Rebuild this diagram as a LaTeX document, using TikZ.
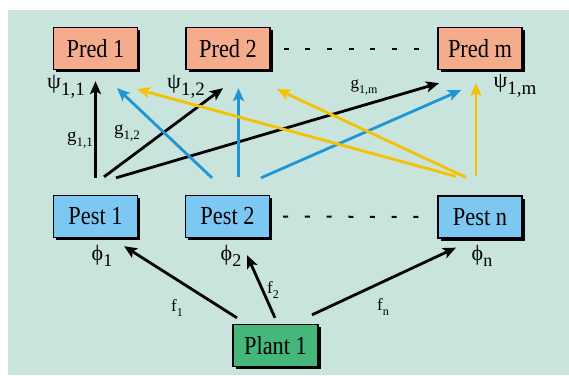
\documentclass[tikz,border=0pt]{standalone}
\usepackage{fontspec}
\setmainfont{Liberation Serif}
\newfontfamily\boxfont{Liberation Serif}[FakeStretch=0.86]
\usetikzlibrary{arrows.meta,shadows}

\definecolor{mint}{RGB}{201,228,221}
\definecolor{predfill}{RGB}{245,172,140}
\definecolor{pestfill}{RGB}{124,200,242}
\definecolor{plantfill}{RGB}{70,183,122}
\definecolor{arrblue}{RGB}{30,150,214}
\definecolor{arryellow}{RGB}{245,194,0}

% coefficient labels: symbol with a lowered index
\newcommand{\coef}[4]{{\fontsize{#3}{#3}\selectfont #1}\raisebox{-0.3\dimexpr#3pt\relax}{\fontsize{#4}{#4}\selectfont #2}}

\tikzset{
  box/.style={draw=black, line width=1.3pt, minimum height=42pt,
    minimum width=84pt, inner sep=0pt,
    drop shadow={shadow xshift=2.5pt, shadow yshift=-2.5pt, fill=black, opacity=1},
    font=\boxfont\fontsize{26}{26}\selectfont},
  pred/.style={box, fill=predfill},
  pest/.style={box, fill=pestfill},
  plant/.style={box, fill=plantfill},
  link/.style={line width=2.8pt, -{Stealth[length=13pt,width=11pt,inset=3pt]}},
  dotsline/.style={line width=2pt, dash pattern=on 5pt off 16.7pt},
  lab/.style={inner sep=0pt}
}

\begin{document}
\begin{tikzpicture}[x=1pt,y=-1pt]
\useasboundingbox (0,0) rectangle (569,375);
\fill[white] (0,0) rectangle (569,375);
\fill[mint] (8,10) rectangle (569,375);

% predators
\node[pred] (pred1) at (95.5,48.5) {Pred 1};
\node[pred] (pred2) at (228,48.5) {Pred 2};
\node[pred] (predm) at (480,48.5) {Pred m};
% pests
\node[pest] (pest1) at (95.5,216.5) {Pest 1};
\node[pest] (pest2) at (227.5,216.5) {Pest 2};
\node[pest] (pestn) at (480,217) {Pest n};
% plant
\node[plant, minimum width=85pt] (plant) at (275.5,345.5) {Plant 1};

% omitted boxes
\draw[dotsline] ([xshift=13pt]pred2.east) -- ([xshift=-18pt]predm.west);
\draw[dotsline] ([xshift=13pt]pest2.east) -- ([xshift=-18pt]pestn.west);

% pest 1 -> predators
\draw[link] ([yshift=17pt]pest1.north) -- ([yshift=-11pt]pred1.south);
\draw[link] ([xshift=8.5pt,yshift=18pt]pest1.north) -- ([xshift=-5pt,yshift=-18pt]pred2.south);
\draw[link] ([xshift=20.5pt,yshift=17pt]pest1.north) -- ([xshift=-41pt,yshift=-13pt]predm.south);
% pest 2 -> predators
\draw[link, arrblue] ([xshift=-15.5pt,yshift=17pt]pest2.north) -- ([xshift=21.5pt,yshift=-18pt]pred1.south);
\draw[link, arrblue] ([xshift=11pt,yshift=18pt]pest2.north) -- ([xshift=10.5pt,yshift=-18pt]pred2.south);
\draw[link, arrblue] ([xshift=33.5pt,yshift=17pt]pest2.north) -- ([xshift=-19pt,yshift=-20pt]predm.south);
% pest n -> predators
\draw[link, arryellow] ([xshift=-24pt,yshift=19pt]pestn.north) -- ([xshift=41.5pt,yshift=-19pt]pred1.south);
\draw[link, arryellow] ([xshift=-14pt,yshift=18pt]pestn.north) -- ([xshift=49pt,yshift=-19pt]pred2.south);
\draw[link, arryellow] ([xshift=-4pt,yshift=19pt]pestn.north) -- ([xshift=-4pt,yshift=-13pt]predm.south);
% plant -> pests
\draw[link] ([xshift=-38.5pt,yshift=6pt]plant.north) -- ([xshift=28.5pt,yshift=-8pt]pest1.south);
\draw[link] ([xshift=-0.5pt,yshift=6pt]plant.north) -- ([xshift=19.5pt,yshift=-17pt]pest2.south);
\draw[link] ([xshift=36.5pt,yshift=9pt]plant.north) -- ([xshift=-24pt,yshift=-9pt]pestn.south);

% predator parameters
\node[lab] (psi11) at (66,87) {\coef{ψ}{1,1}{22}{19}};
\node[lab] (psi12) at (186,87) {\coef{ψ}{1,2}{22}{19}};
\node[lab] (psi1m) at (515,86) {\coef{ψ}{1,m}{22}{19}};
% pest parameters
\node[lab] (phi1) at (102,256) {\coef{ϕ}{1}{22}{18}};
\node[lab] (phi2) at (231,256) {\coef{ϕ}{2}{22}{18}};
\node[lab] (phin) at (482,256) {\coef{ϕ}{n}{22}{18}};
% link weights
\node[lab] (g11) at (80,140) {\coef{g}{1,1}{19}{13}};
\node[lab] (g12) at (127,133) {\coef{g}{1,2}{19}{13}};
\node[lab] (g1m) at (364,88) {\coef{g}{1,m}{17}{12}};
\node[lab] (f1) at (177,308) {\coef{f}{1}{17}{12}};
\node[lab] (f2) at (273,290) {\coef{f}{2}{17}{12}};
\node[lab] (fn) at (383,307) {\coef{f}{n}{17}{12}};
\end{tikzpicture}
\end{document}
